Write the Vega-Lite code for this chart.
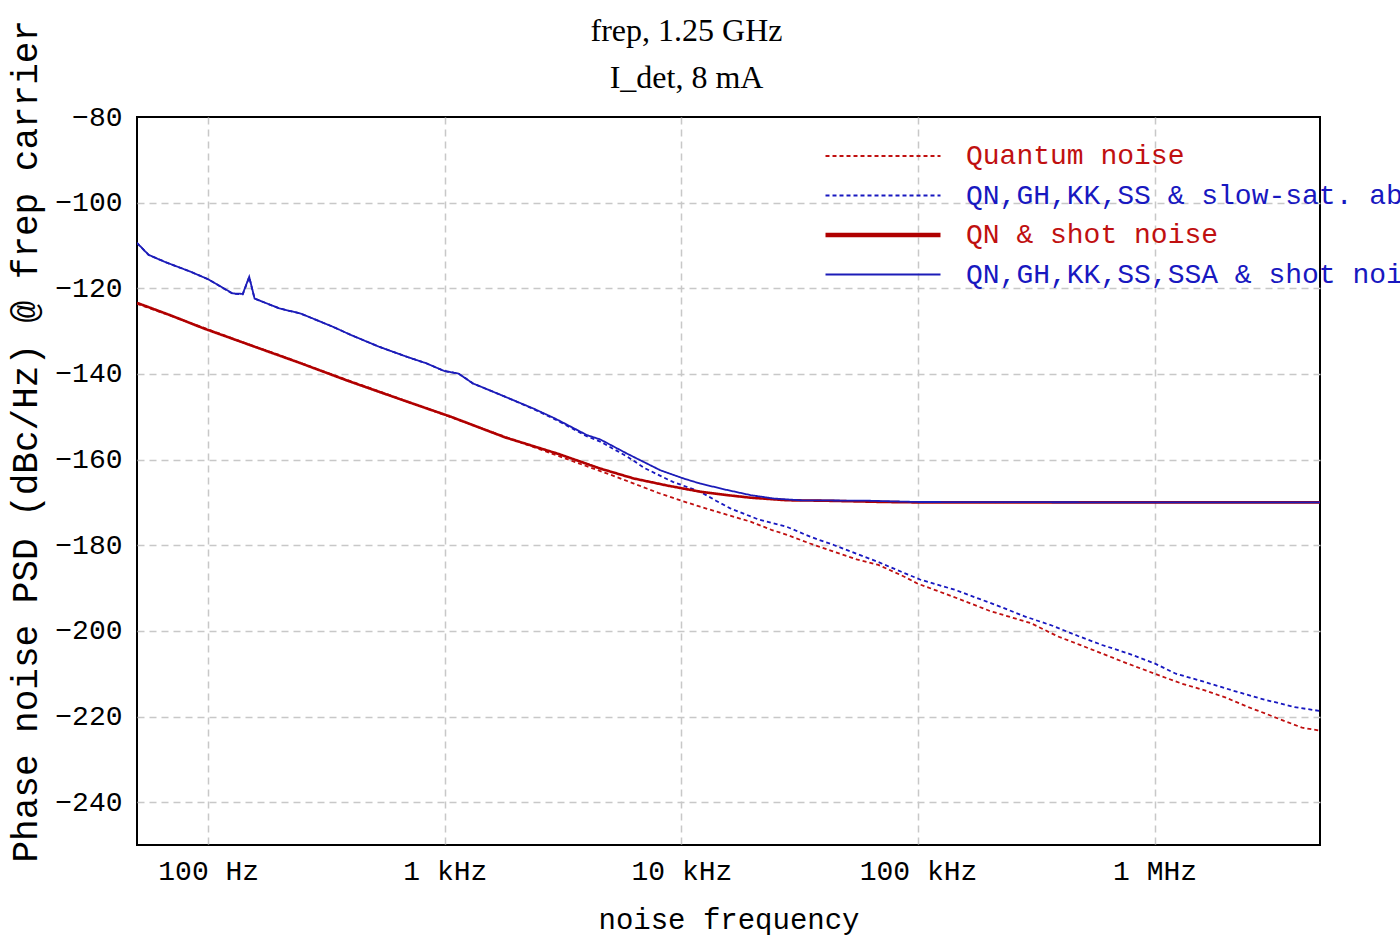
{
  "$schema": "https://vega.github.io/schema/vega-lite/v6.json",
  "width": 1183,
  "height": 728,
  "autosize": {"type": "none"},
  "padding": {"left": 137, "top": 117, "right": 80, "bottom": 92},
  "background": "white",
  "config": {
    "view": {"stroke": "black", "strokeWidth": 2}
  },
  "title": {
    "text": ["frep, 1.25 GHz", "I_det, 8 mA"],
    "font": "Liberation Serif",
    "fontSize": 32,
    "fontWeight": "normal",
    "color": "black",
    "lineHeight": 47,
    "anchor": "middle",
    "baseline": "alphabetic",
    "offset": 29,
    "dx": -42,
    "dy": 130
  },
  "datasets": {
    "curves": [
      {"series": "Quantum noise", "f": 50, "v": -123.6},
      {"series": "Quantum noise", "f": 70, "v": -126.5},
      {"series": "Quantum noise", "f": 100, "v": -129.6},
      {"series": "Quantum noise", "f": 150, "v": -133.2},
      {"series": "Quantum noise", "f": 200, "v": -135.6},
      {"series": "Quantum noise", "f": 300, "v": -139.2},
      {"series": "Quantum noise", "f": 500, "v": -143.6},
      {"series": "Quantum noise", "f": 700, "v": -146.5},
      {"series": "Quantum noise", "f": 1000, "v": -149.6},
      {"series": "Quantum noise", "f": 1500, "v": -153.1},
      {"series": "Quantum noise", "f": 2000, "v": -155.6},
      {"series": "Quantum noise", "f": 3000, "v": -159.1},
      {"series": "Quantum noise", "f": 4000, "v": -161.6},
      {"series": "Quantum noise", "f": 5000, "v": -163.5},
      {"series": "Quantum noise", "f": 6300, "v": -165.6},
      {"series": "Quantum noise", "f": 8000, "v": -167.8},
      {"series": "Quantum noise", "f": 10000, "v": -169.6},
      {"series": "Quantum noise", "f": 12000, "v": -171.0},
      {"series": "Quantum noise", "f": 15000, "v": -172.6},
      {"series": "Quantum noise", "f": 19600, "v": -174.5},
      {"series": "Quantum noise", "f": 24000, "v": -176.4},
      {"series": "Quantum noise", "f": 28000, "v": -177.6},
      {"series": "Quantum noise", "f": 35000, "v": -179.6},
      {"series": "Quantum noise", "f": 44000, "v": -181.5},
      {"series": "Quantum noise", "f": 55000, "v": -183.3},
      {"series": "Quantum noise", "f": 68000, "v": -184.6},
      {"series": "Quantum noise", "f": 85000, "v": -187.0},
      {"series": "Quantum noise", "f": 100000, "v": -189.0},
      {"series": "Quantum noise", "f": 120000, "v": -190.6},
      {"series": "Quantum noise", "f": 150000, "v": -192.6},
      {"series": "Quantum noise", "f": 200000, "v": -195.3},
      {"series": "Quantum noise", "f": 250000, "v": -196.9},
      {"series": "Quantum noise", "f": 300000, "v": -198.2},
      {"series": "Quantum noise", "f": 390000, "v": -201.3},
      {"series": "Quantum noise", "f": 480000, "v": -203.2},
      {"series": "Quantum noise", "f": 600000, "v": -205.3},
      {"series": "Quantum noise", "f": 750000, "v": -207.4},
      {"series": "Quantum noise", "f": 1000000, "v": -210.0},
      {"series": "Quantum noise", "f": 1300000, "v": -212.3},
      {"series": "Quantum noise", "f": 1630000, "v": -213.9},
      {"series": "Quantum noise", "f": 2000000, "v": -215.6},
      {"series": "Quantum noise", "f": 2490000, "v": -217.8},
      {"series": "Quantum noise", "f": 3000000, "v": -219.5},
      {"series": "Quantum noise", "f": 3600000, "v": -221.2},
      {"series": "Quantum noise", "f": 4200000, "v": -222.6},
      {"series": "Quantum noise", "f": 5000000, "v": -223.3},

      {"series": "QN,GH,KK,SS & slow-sat. abs.", "f": 50, "v": -109.4},
      {"series": "QN,GH,KK,SS & slow-sat. abs.", "f": 56, "v": -112.2},
      {"series": "QN,GH,KK,SS & slow-sat. abs.", "f": 66, "v": -113.9},
      {"series": "QN,GH,KK,SS & slow-sat. abs.", "f": 84, "v": -116.1},
      {"series": "QN,GH,KK,SS & slow-sat. abs.", "f": 100, "v": -117.9},
      {"series": "QN,GH,KK,SS & slow-sat. abs.", "f": 127, "v": -121.3},
      {"series": "QN,GH,KK,SS & slow-sat. abs.", "f": 140, "v": -121.4},
      {"series": "QN,GH,KK,SS & slow-sat. abs.", "f": 149, "v": -117.4},
      {"series": "QN,GH,KK,SS & slow-sat. abs.", "f": 157, "v": -122.4},
      {"series": "QN,GH,KK,SS & slow-sat. abs.", "f": 200, "v": -124.7},
      {"series": "QN,GH,KK,SS & slow-sat. abs.", "f": 246, "v": -125.9},
      {"series": "QN,GH,KK,SS & slow-sat. abs.", "f": 337, "v": -129.0},
      {"series": "QN,GH,KK,SS & slow-sat. abs.", "f": 401, "v": -130.9},
      {"series": "QN,GH,KK,SS & slow-sat. abs.", "f": 530, "v": -133.7},
      {"series": "QN,GH,KK,SS & slow-sat. abs.", "f": 700, "v": -136.1},
      {"series": "QN,GH,KK,SS & slow-sat. abs.", "f": 834, "v": -137.5},
      {"series": "QN,GH,KK,SS & slow-sat. abs.", "f": 993, "v": -139.3},
      {"series": "QN,GH,KK,SS & slow-sat. abs.", "f": 1142, "v": -139.9},
      {"series": "QN,GH,KK,SS & slow-sat. abs.", "f": 1313, "v": -142.2},
      {"series": "QN,GH,KK,SS & slow-sat. abs.", "f": 1795, "v": -145.3},
      {"series": "QN,GH,KK,SS & slow-sat. abs.", "f": 2373, "v": -148.2},
      {"series": "QN,GH,KK,SS & slow-sat. abs.", "f": 2923, "v": -150.6},
      {"series": "QN,GH,KK,SS & slow-sat. abs.", "f": 3996, "v": -154.6},
      {"series": "QN,GH,KK,SS & slow-sat. abs.", "f": 4540, "v": -155.8},
      {"series": "QN,GH,KK,SS & slow-sat. abs.", "f": 5900, "v": -159.3},
      {"series": "QN,GH,KK,SS & slow-sat. abs.", "f": 7000, "v": -162.0},
      {"series": "QN,GH,KK,SS & slow-sat. abs.", "f": 8150, "v": -163.8},
      {"series": "QN,GH,KK,SS & slow-sat. abs.", "f": 9200, "v": -165.2},
      {"series": "QN,GH,KK,SS & slow-sat. abs.", "f": 12000, "v": -167.5},
      {"series": "QN,GH,KK,SS & slow-sat. abs.", "f": 14000, "v": -169.6},
      {"series": "QN,GH,KK,SS & slow-sat. abs.", "f": 16100, "v": -171.4},
      {"series": "QN,GH,KK,SS & slow-sat. abs.", "f": 21200, "v": -174.0},
      {"series": "QN,GH,KK,SS & slow-sat. abs.", "f": 27900, "v": -175.7},
      {"series": "QN,GH,KK,SS & slow-sat. abs.", "f": 35000, "v": -178.0},
      {"series": "QN,GH,KK,SS & slow-sat. abs.", "f": 44300, "v": -180.0},
      {"series": "QN,GH,KK,SS & slow-sat. abs.", "f": 55000, "v": -182.0},
      {"series": "QN,GH,KK,SS & slow-sat. abs.", "f": 67800, "v": -183.9},
      {"series": "QN,GH,KK,SS & slow-sat. abs.", "f": 85000, "v": -186.2},
      {"series": "QN,GH,KK,SS & slow-sat. abs.", "f": 102000, "v": -188.0},
      {"series": "QN,GH,KK,SS & slow-sat. abs.", "f": 143000, "v": -190.4},
      {"series": "QN,GH,KK,SS & slow-sat. abs.", "f": 183000, "v": -192.6},
      {"series": "QN,GH,KK,SS & slow-sat. abs.", "f": 224000, "v": -194.4},
      {"series": "QN,GH,KK,SS & slow-sat. abs.", "f": 282000, "v": -196.6},
      {"series": "QN,GH,KK,SS & slow-sat. abs.", "f": 370000, "v": -198.8},
      {"series": "QN,GH,KK,SS & slow-sat. abs.", "f": 475000, "v": -201.2},
      {"series": "QN,GH,KK,SS & slow-sat. abs.", "f": 600000, "v": -203.3},
      {"series": "QN,GH,KK,SS & slow-sat. abs.", "f": 777000, "v": -205.3},
      {"series": "QN,GH,KK,SS & slow-sat. abs.", "f": 1000000, "v": -207.6},
      {"series": "QN,GH,KK,SS & slow-sat. abs.", "f": 1230000, "v": -210.0},
      {"series": "QN,GH,KK,SS & slow-sat. abs.", "f": 1600000, "v": -211.8},
      {"series": "QN,GH,KK,SS & slow-sat. abs.", "f": 2130000, "v": -213.9},
      {"series": "QN,GH,KK,SS & slow-sat. abs.", "f": 2800000, "v": -215.8},
      {"series": "QN,GH,KK,SS & slow-sat. abs.", "f": 3900000, "v": -217.8},
      {"series": "QN,GH,KK,SS & slow-sat. abs.", "f": 5000000, "v": -218.7},

      {"series": "QN & shot noise", "f": 50, "v": -123.4},
      {"series": "QN & shot noise", "f": 70, "v": -126.4},
      {"series": "QN & shot noise", "f": 96, "v": -129.4},
      {"series": "QN & shot noise", "f": 151, "v": -133.3},
      {"series": "QN & shot noise", "f": 246, "v": -137.5},
      {"series": "QN & shot noise", "f": 389, "v": -141.6},
      {"series": "QN & shot noise", "f": 655, "v": -146.0},
      {"series": "QN & shot noise", "f": 1062, "v": -150.0},
      {"series": "QN & shot noise", "f": 1795, "v": -154.8},
      {"series": "QN & shot noise", "f": 3030, "v": -158.7},
      {"series": "QN & shot noise", "f": 4540, "v": -162.1},
      {"series": "QN & shot noise", "f": 6280, "v": -164.4},
      {"series": "QN & shot noise", "f": 8600, "v": -166.0},
      {"series": "QN & shot noise", "f": 12000, "v": -167.5},
      {"series": "QN & shot noise", "f": 15600, "v": -168.3},
      {"series": "QN & shot noise", "f": 19600, "v": -168.9},
      {"series": "QN & shot noise", "f": 28000, "v": -169.5},
      {"series": "QN & shot noise", "f": 40000, "v": -169.6},
      {"series": "QN & shot noise", "f": 72000, "v": -169.9},
      {"series": "QN & shot noise", "f": 100000, "v": -170.0},
      {"series": "QN & shot noise", "f": 1000000, "v": -170.0},
      {"series": "QN & shot noise", "f": 5000000, "v": -170.0},

      {"series": "QN,GH,KK,SS,SSA & shot noise", "f": 50, "v": -109.4},
      {"series": "QN,GH,KK,SS,SSA & shot noise", "f": 56, "v": -112.2},
      {"series": "QN,GH,KK,SS,SSA & shot noise", "f": 66, "v": -113.9},
      {"series": "QN,GH,KK,SS,SSA & shot noise", "f": 84, "v": -116.1},
      {"series": "QN,GH,KK,SS,SSA & shot noise", "f": 100, "v": -117.9},
      {"series": "QN,GH,KK,SS,SSA & shot noise", "f": 127, "v": -121.2},
      {"series": "QN,GH,KK,SS,SSA & shot noise", "f": 140, "v": -121.3},
      {"series": "QN,GH,KK,SS,SSA & shot noise", "f": 149, "v": -117.3},
      {"series": "QN,GH,KK,SS,SSA & shot noise", "f": 157, "v": -122.4},
      {"series": "QN,GH,KK,SS,SSA & shot noise", "f": 200, "v": -124.7},
      {"series": "QN,GH,KK,SS,SSA & shot noise", "f": 246, "v": -125.9},
      {"series": "QN,GH,KK,SS,SSA & shot noise", "f": 337, "v": -129.0},
      {"series": "QN,GH,KK,SS,SSA & shot noise", "f": 401, "v": -130.9},
      {"series": "QN,GH,KK,SS,SSA & shot noise", "f": 530, "v": -133.7},
      {"series": "QN,GH,KK,SS,SSA & shot noise", "f": 700, "v": -136.1},
      {"series": "QN,GH,KK,SS,SSA & shot noise", "f": 834, "v": -137.5},
      {"series": "QN,GH,KK,SS,SSA & shot noise", "f": 993, "v": -139.3},
      {"series": "QN,GH,KK,SS,SSA & shot noise", "f": 1142, "v": -139.9},
      {"series": "QN,GH,KK,SS,SSA & shot noise", "f": 1313, "v": -142.2},
      {"series": "QN,GH,KK,SS,SSA & shot noise", "f": 1795, "v": -145.3},
      {"series": "QN,GH,KK,SS,SSA & shot noise", "f": 2373, "v": -148.1},
      {"series": "QN,GH,KK,SS,SSA & shot noise", "f": 2923, "v": -150.4},
      {"series": "QN,GH,KK,SS,SSA & shot noise", "f": 3996, "v": -154.3},
      {"series": "QN,GH,KK,SS,SSA & shot noise", "f": 4540, "v": -155.3},
      {"series": "QN,GH,KK,SS,SSA & shot noise", "f": 5888, "v": -158.6},
      {"series": "QN,GH,KK,SS,SSA & shot noise", "f": 8150, "v": -162.5},
      {"series": "QN,GH,KK,SS,SSA & shot noise", "f": 10200, "v": -164.4},
      {"series": "QN,GH,KK,SS,SSA & shot noise", "f": 12000, "v": -165.6},
      {"series": "QN,GH,KK,SS,SSA & shot noise", "f": 15600, "v": -167.1},
      {"series": "QN,GH,KK,SS,SSA & shot noise", "f": 19600, "v": -168.3},
      {"series": "QN,GH,KK,SS,SSA & shot noise", "f": 24600, "v": -169.1},
      {"series": "QN,GH,KK,SS,SSA & shot noise", "f": 31900, "v": -169.5},
      {"series": "QN,GH,KK,SS,SSA & shot noise", "f": 61000, "v": -169.6},
      {"series": "QN,GH,KK,SS,SSA & shot noise", "f": 100000, "v": -169.9},
      {"series": "QN,GH,KK,SS,SSA & shot noise", "f": 1000000, "v": -170.0},
      {"series": "QN,GH,KK,SS,SSA & shot noise", "f": 5000000, "v": -170.0}
    ]
  },
  "data": {"name": "curves"},
  "encoding": {
    "x": {
      "field": "f",
      "type": "quantitative",
      "scale": {"type": "log", "domain": [50, 5000000], "nice": false},
      "axis": {
        "values": [100, 1000, 10000, 100000, 1000000],
        "labelExpr": "datum.value >= 1000000 ? (datum.value / 1000000) + ' MHz' : datum.value >= 1000 ? (datum.value / 1000) + ' kHz' : datum.value + ' Hz'",
        "grid": true,
        "gridColor": "#c8c8c8",
        "gridDash": [7, 5],
        "gridWidth": 1.5,
        "ticks": false,
        "domain": false,
        "labelFont": "Liberation Mono",
        "labelFontSize": 28,
        "labelColor": "black",
        "labelPadding": 12,
        "labelFlush": false,
        "title": "noise frequency",
        "titleFont": "Liberation Mono",
        "titleFontSize": 29,
        "titleFontWeight": "normal",
        "titleColor": "black",
        "titlePadding": 20
      }
    },
    "y": {
      "field": "v",
      "type": "quantitative",
      "scale": {"domain": [-250, -80], "nice": false, "zero": false},
      "axis": {
        "values": [-80, -100, -120, -140, -160, -180, -200, -220, -240],
        "grid": true,
        "gridColor": "#c8c8c8",
        "gridDash": [7, 5],
        "gridWidth": 1.5,
        "gridOpacity": {"condition": {"test": "datum.value === -80", "value": 0}, "value": 1},
        "ticks": false,
        "domain": false,
        "labelFont": "Liberation Mono",
        "labelFontSize": 28,
        "labelColor": "black",
        "labelPadding": 15,
        "labelFlush": false,
        "title": "Phase noise PSD (dBc/Hz) @ frep carrier",
        "titleFont": "Liberation Mono",
        "titleFontSize": 36,
        "titleFontWeight": "normal",
        "titleColor": "black",
        "titleAngle": 270,
        "titleAlign": "left",
        "titleBaseline": "middle",
        "titleX": -112,
        "titleY": 745
      }
    },
    "color": {
      "field": "series",
      "type": "nominal",
      "scale": {
        "domain": ["Quantum noise", "QN,GH,KK,SS & slow-sat. abs.", "QN & shot noise", "QN,GH,KK,SS,SSA & shot noise"],
        "range": ["#c01010", "#1818c0", "#b00000", "#1c1cb8"]
      },
      "legend": {
        "orient": "none",
        "legendX": 688,
        "legendY": 25,
        "title": null,
        "symbolType": "stroke",
        "symbolSize": 13225,
        "symbolOffset": 44,
        "clipHeight": 28,
        "labelFont": "Liberation Mono",
        "labelFontSize": 28,
        "labelLimit": 0,
        "labelOffset": 69,
        "rowPadding": 11.5,
        "encode": {
          "labels": {
            "update": {
              "fill": {"signal": "datum.value === 'Quantum noise' || datum.value === 'QN & shot noise' ? '#c01010' : '#1818c0'"}
            }
          },
          "symbols": {
            "update": {
              "strokeWidth": {"signal": "datum.value === 'QN & shot noise' ? 4.5 : 2"}
            }
          }
        }
      }
    },
    "strokeDash": {
      "field": "series",
      "type": "nominal",
      "scale": {
        "domain": ["Quantum noise", "QN,GH,KK,SS & slow-sat. abs.", "QN & shot noise", "QN,GH,KK,SS,SSA & shot noise"],
        "range": [[4, 3], [4, 3], [1, 0], [1, 0]]
      }
    }
  },
  "layer": [
    {"transform": [{"filter": "datum.series === 'Quantum noise'"}], "mark": {"type": "line", "clip": true, "strokeWidth": 1.8}},
    {"transform": [{"filter": "datum.series === 'QN,GH,KK,SS & slow-sat. abs.'"}], "mark": {"type": "line", "clip": true, "strokeWidth": 1.8}},
    {"transform": [{"filter": "datum.series === 'QN & shot noise'"}], "mark": {"type": "line", "clip": true, "strokeWidth": 2.6}},
    {"transform": [{"filter": "datum.series === 'QN,GH,KK,SS,SSA & shot noise'"}], "mark": {"type": "line", "clip": true, "strokeWidth": 1.8}}
  ]
}
